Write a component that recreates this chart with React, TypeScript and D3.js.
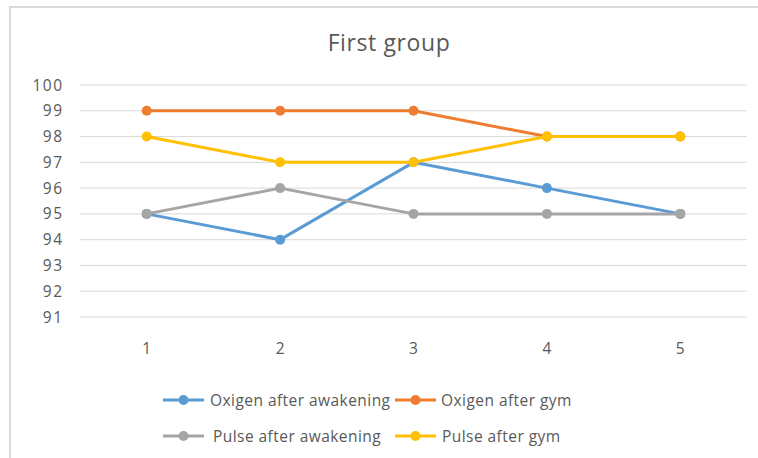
import React from "react";
import * as d3 from "d3";

const categories = ["1", "2", "3", "4", "5"];
const oxigenAfterAwakening = [95, 94, 97, 96, 95];
const oxigenAfterGym = [99, 99, 99, 98, 98];
const pulseAfterAwakening = [95, 96, 95, 95, 95];
const pulseAfterGym = [98, 97, 97, 98, 98];
const yTicks = [91, 92, 93, 94, 95, 96, 97, 98, 99, 100];

const seriesNames = [
  "Oxigen after awakening",
  "Oxigen after gym",
  "Pulse after awakening",
  "Pulse after gym",
];
const seriesColors = ["#5b9bd5", "#ed7d31", "#a5a5a5", "#ffc000"];
const seriesValues = [oxigenAfterAwakening, oxigenAfterGym, pulseAfterAwakening, pulseAfterGym];

const W = 758;
const H = 458;
const FONT = "'Open Sans', Lato, sans-serif";
const TEXT = "#595959";

export default function App() {
  const x = d3.scalePoint<string>().domain(categories).range([80, 747]).padding(0.5);
  const y = d3.scaleLinear().domain([91, 100]).range([317, 85]);
  const line = d3
    .line<number>()
    .x((_, i) => x(categories[i]) as number)
    .y((d) => y(d));

  const legendItems = [
    { i: 0, lx: 163, tx: 210, ly: 400 },
    { i: 1, lx: 395, tx: 441, ly: 400 },
    { i: 2, lx: 163, tx: 213, ly: 436 },
    { i: 3, lx: 395, tx: 442, ly: 436 },
  ];

  return (
    <div style={{ position: "absolute", left: 0, top: 0 }}>
      <svg width={W} height={H} style={{ display: "block", background: "#fff" }}>
        {/* chart frame */}
        <path d={`M10,${H} V7 H${W}`} fill="none" stroke="#d9d9d9" strokeWidth={2} />

        <text x={389} y={51} textAnchor="middle" fontFamily={FONT} fontSize={23} letterSpacing={0.6} fill={TEXT}>
          First group
        </text>

        {/* gridlines */}
        {yTicks.map((t) => (
          <line key={t} x1={80} x2={747} y1={y(t)} y2={y(t)} stroke="#d9d9d9" strokeWidth={1} />
        ))}

        {/* y axis labels */}
        {yTicks.map((t) => (
          <text key={t} x={63.5} y={y(t) + 5.5} textAnchor="end" fontFamily={FONT} fontSize={15.5} letterSpacing={1.5} fill={TEXT}>
            {t}
          </text>
        ))}

        {/* x axis labels */}
        {categories.map((c) => (
          <text key={c} x={x(c)} y={354} textAnchor="middle" fontFamily={FONT} fontSize={15.5} fill={TEXT}>
            {c}
          </text>
        ))}

        {/* series */}
        {seriesValues.map((vals, si) => (
          <g key={si}>
            <path d={line(vals) ?? ""} fill="none" stroke={seriesColors[si]} strokeWidth={3} strokeLinejoin="round" />
            {vals.map((v, i) => (
              <circle key={i} cx={x(categories[i])} cy={y(v)} r={5} fill={seriesColors[si]} />
            ))}
          </g>
        ))}

        {/* legend */}
        {legendItems.map(({ i, lx, tx, ly }) => (
          <g key={i}>
            <line x1={lx} x2={lx + 41} y1={ly} y2={ly} stroke={seriesColors[i]} strokeWidth={3} />
            <circle cx={lx + 20.5} cy={ly} r={5} fill={seriesColors[i]} />
            <text x={tx} y={ly + 5.5} fontFamily={FONT} fontSize={15.5} letterSpacing={0.45} fill={TEXT}>
              {seriesNames[i]}
            </text>
          </g>
        ))}
      </svg>
    </div>
  );
}
